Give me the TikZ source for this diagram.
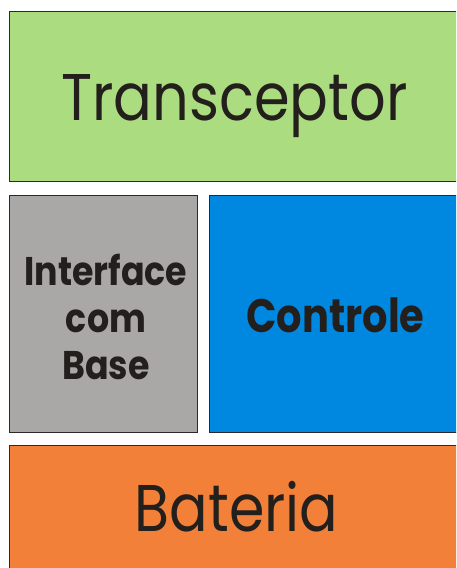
\documentclass[tikz,border=0pt]{standalone}
\usepackage{fontspec}
\setmainfont{Poppins}
\definecolor{cgreen}{HTML}{ABDD80}
\definecolor{cgray}{HTML}{A9A8A6}
\definecolor{cblue}{HTML}{0088E0}
\definecolor{corange}{HTML}{F38038}
\definecolor{cline}{HTML}{2A2A2A}
\definecolor{ctext}{HTML}{231F1C}
\tikzset{
  blockbox/.style={draw=cline, line width=1pt},
  lighttext/.style={anchor=base, text=ctext, inner sep=0pt, font=\fontsize{66}{66}\selectfont},
  boldtext/.style={anchor=base, text=ctext, inner sep=0pt, font=\bfseries\fontsize{40}{40}\selectfont},
}
\begin{document}
\begin{tikzpicture}[x=1pt,y=-1pt]
\useasboundingbox (0,0) rectangle (456,568);
\clip (0,0) rectangle (456,568);
\fill[white] (0,0) rectangle (456,568);
\draw[blockbox, fill=cgreen] (9.5,11.5) rectangle (462,181);
\draw[blockbox, fill=cgray] (9.5,195.5) rectangle (197.5,432.5);
\draw[blockbox, fill=cblue] (209.5,195.5) rectangle (462,432.5);
\draw[blockbox, fill=corange] (9.5,445.5) rectangle (462,590);
\node[lighttext] (t) at (234.5,120) {\scalebox{0.87}[1]{Transceptor}};
\node[boldtext] (i1) at (106,285) {\scalebox{0.87}[1]{Interface}};
\node[boldtext] (i2) at (106,332) {\scalebox{0.87}[1]{com}};
\node[boldtext] (i3) at (106,379) {\scalebox{0.87}[1]{Base}};
\node[boldtext, font=\bfseries\fontsize{47}{47}\selectfont] (c) at (335.5,332) {\scalebox{0.85}[1]{Controle}};
\node[lighttext] (b) at (236.5,531) {\scalebox{0.865}[1]{Bateria}};
\end{tikzpicture}
\end{document}
